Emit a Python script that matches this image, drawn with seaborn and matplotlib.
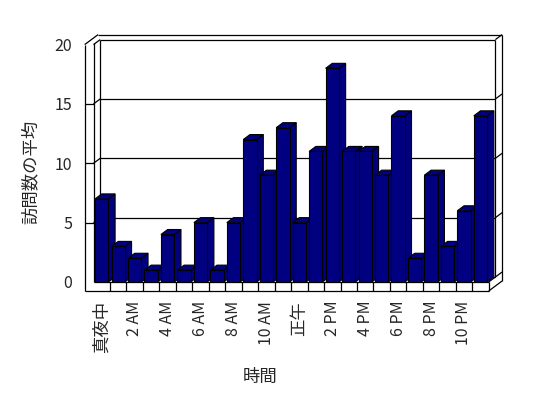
import matplotlib
matplotlib.use("Agg")
import matplotlib.pyplot as plt
import numpy as np
import pandas as pd
import seaborn as sns
from matplotlib.patches import Polygon

# ---- data ----
hours = ["真夜中"] + [f"{h} AM" for h in range(1, 12)] + ["正午"] + [f"{h} PM" for h in range(1, 12)]
visits = [7, 3, 2, 1, 4, 1, 5, 1, 5, 12, 9, 13, 5, 11, 18, 11, 11, 9, 14, 2, 9, 3, 6, 14]
yticks = [0, 5, 10, 15, 20]
tick_labels = hours[::2]

sns.set_theme(style="white")
plt.rcParams['font.family'] = ['Noto Sans CJK JP', 'DejaVu Sans']

W, H = 548, 398
fig = plt.figure(figsize=(W / 100, H / 100), dpi=100)
fig.patch.set_facecolor("white")

bg = fig.add_axes([0, 0, 1, 1], zorder=0)
bg.set_xlim(0, W)
bg.set_ylim(H, 0)
bg.axis('off')

# front plane of the plot (pixel layout)
X0, X1, Y0, Y20 = 93.5, 488.7, 282.0, 44.6
ax = fig.add_axes([X0 / W, 1 - Y0 / H, (X1 - X0) / W, (Y0 - Y20) / H], zorder=1)
ax.patch.set_visible(False)

NAVY = "#000080"
df = pd.DataFrame({"hour": hours, "visits": visits})
sns.barplot(data=df, x="hour", y="visits", order=hours, color=NAVY, saturation=1,
            edgecolor="black", linewidth=0.8, width=0.81, ax=ax)
n = len(hours)
ax.set_xlim(-0.5, n - 0.5)
ax.set_ylim(yticks[0], yticks[-1])
for s in ax.spines.values():
    s.set_visible(False)

# depth of the 3D effect
Dx, Dy = 6.7, -5.0
slot = (X1 - X0) / n
ppu = (Y0 - Y20) / (yticks[-1] - yticks[0])
dxd = Dx / slot
dyd = -Dy / ppu

for i, p in enumerate(ax.patches):
    x, w, h = p.get_x(), p.get_width(), p.get_height()
    p.set_zorder(10 + 2 * i + 1)
    side = Polygon([(x + w, 0), (x + w, h), (x + w + dxd, h + dyd), (x + w + dxd, dyd)],
                   closed=True, facecolor=NAVY, edgecolor="black", lw=0.8,
                   zorder=10 + 2 * i, clip_on=False)
    top = Polygon([(x, h), (x + w, h), (x + w + dxd, h + dyd), (x + dxd, h + dyd)],
                  closed=True, facecolor=NAVY, edgecolor="black", lw=0.8,
                  zorder=10 + 2 * i, clip_on=False)
    ax.add_patch(side)
    ax.add_patch(top)

# ---- walls / floor frame (background) ----
T, F = 8.8, 9.0
LW = 0.9


def yv(v):
    return Y0 - (v - yticks[0]) * ppu


def L(xs, ys):
    bg.plot(xs, ys, color="black", lw=LW, solid_capstyle="butt")


# left wall outer front edge
L([X0 - T, X0 - T], [Y20, Y0 + F])
# floor front bottom edge
L([X0 - T, X1], [Y0 + F, Y0 + F])
L([X0, X1], [Y0, Y0])
# floor category separators
for k in range(1, n):
    xx = X0 + k * slot
    L([xx, xx], [Y0, Y0 + F])
# floor right side
L([X1, X1], [Y0, Y0 + F])
L([X1, X1 + 2 * Dx], [Y0 + F, Y0 + F + 2 * Dy])
L([X1, X1 + Dx], [Y0, Y0 + Dy])
# left wall inner face
L([X0, X0], [Y20 - 1.5, Y0])
L([X0 + Dx, X0 + Dx], [Y20 + Dy, Y0 + Dy])
# back wall bottom
L([X0 + Dx, X1 + Dx], [Y0 + Dy, Y0 + Dy])
# gridlines on back wall + diagonals on left/right walls
for v in yticks[1:]:
    y = yv(v)
    L([X0 + Dx, X1 + Dx], [y + Dy, y + Dy])
    L([X0, X0 + Dx], [y, y + Dy])
    L([X1 + Dx, X1 + 2 * Dx], [y + Dy, y + 2 * Dy])
    if v != yticks[-1]:
        L([X0 - T, X0], [y, y])
L([X1 + Dx, X1 + 2 * Dx], [Y0 + Dy, Y0 + 2 * Dy])
# top outer edges
L([X0 - T, X0 - T + 2 * Dx], [Y20, Y20 + 2 * Dy])
L([X0 - T + 2 * Dx, X1 + 2 * Dx], [Y20 + 2 * Dy, Y20 + 2 * Dy])
# right walls
L([X1 + Dx, X1 + Dx], [Y20 + Dy, Y0 + Dy])
L([X1 + 2 * Dx, X1 + 2 * Dx], [Y20 + 2 * Dy, Y0 + F + 2 * Dy])

# ---- ticks and labels ----
ax.set_xticks(range(0, n, 2))
ax.set_xticklabels(tick_labels, rotation=90, fontsize=11.5, va="top", ha="center")
for lbl in ax.get_xticklabels():
    if not lbl.get_text().isascii():
        lbl.set_fontsize(12.5)
ax.set_yticks(yticks)
ax.set_yticklabels([str(v) for v in yticks], fontsize=11.5)
ax.tick_params(axis="x", length=0, pad=13.5)
ax.tick_params(axis="y", length=0, pad=(X0 - 72) * 0.72)

ax.set_xlabel("時間", fontsize=12.5)
ax.xaxis.label.set_va("center")
ax.xaxis.set_label_coords((260 - X0) / (X1 - X0), (Y0 - 377) / (Y0 - Y20))
ax.set_ylabel("訪問数の平均", fontsize=12.5)
ax.yaxis.label.set_va("center")
ax.yaxis.set_label_coords((31 - X0) / (X1 - X0), (Y0 - 172) / (Y0 - Y20))

fig.savefig("out.png", dpi=100, facecolor="white")
